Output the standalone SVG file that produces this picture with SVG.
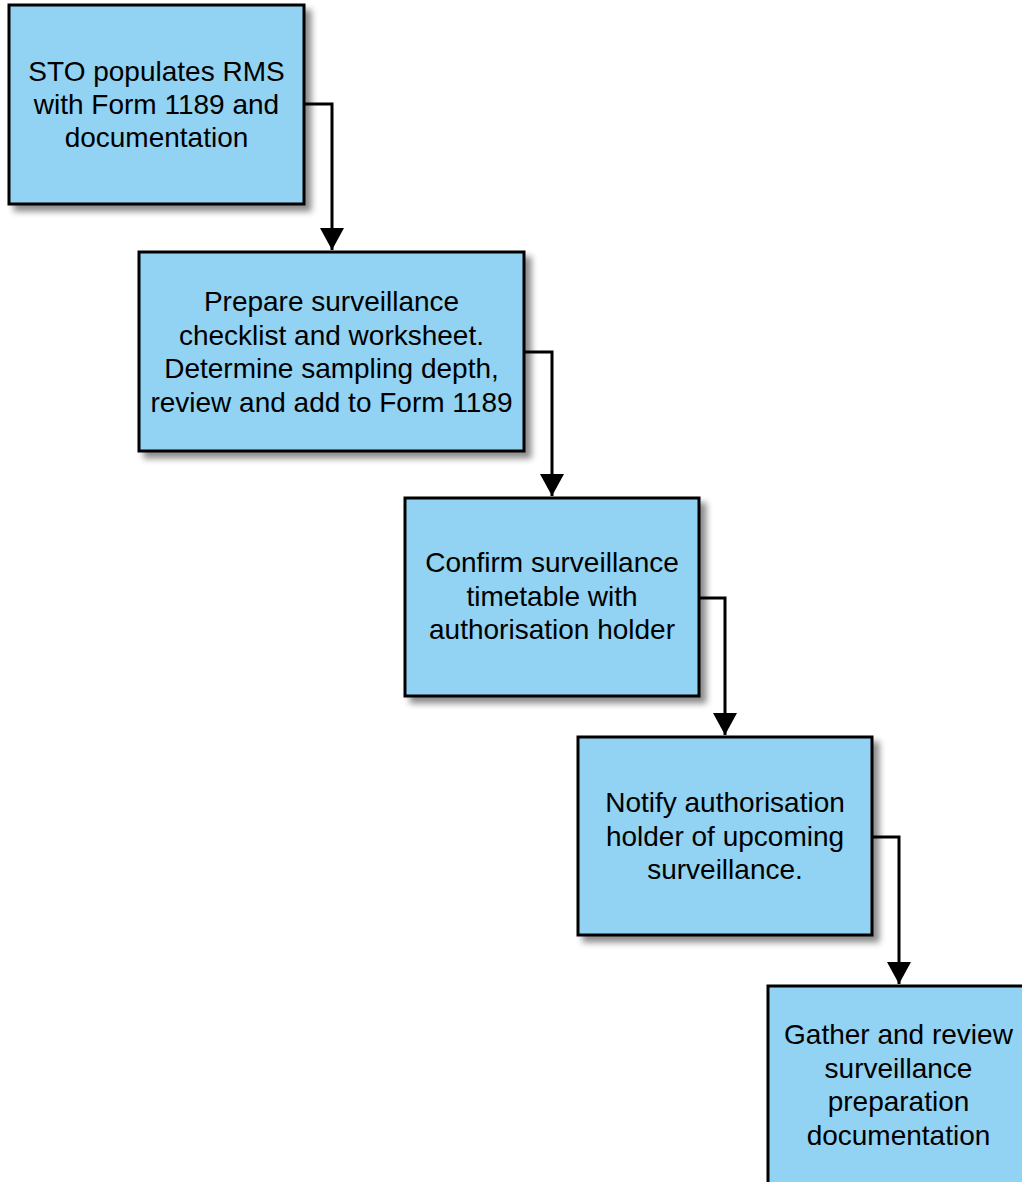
<svg xmlns="http://www.w3.org/2000/svg" width="1022" height="1182" viewBox="0 0 1022 1182">
  <style>
    .box { fill: #92D2F2; stroke: #000000; stroke-width: 3; filter: url(#shadow); }
    .label { font-family: "Liberation Sans", Arial, sans-serif; font-size: 28px; fill: #000000; text-anchor: middle; }
    .link { fill: none; stroke: #000000; stroke-width: 3; marker-end: url(#arrow); }
  </style>
  <defs>
    <filter id="shadow" x="-10%" y="-10%" width="130%" height="130%">
      <feDropShadow dx="6" dy="6" stdDeviation="3" flood-color="#000000" flood-opacity="0.45"/>
    </filter>
    <marker id="arrow" markerUnits="userSpaceOnUse" markerWidth="24" markerHeight="24" viewBox="0 0 24 24" refX="22" refY="12" orient="auto">
      <path d="M0,0 L22,12 L0,24 Z" fill="#000000"/>
    </marker>
  </defs>

  <rect width="1022" height="1182" fill="#FFFFFF"/>

  <!-- connectors -->
  <g id="connectors">
    <path class="link" d="M304,104 H332 V250"/>
    <path class="link" d="M524,352 H552 V496"/>
    <path class="link" d="M699,598 H725 V735"/>
    <path class="link" d="M872,837 H899 V984"/>
  </g>

  <g id="node-sto">
    <rect class="box" x="9" y="5" width="295" height="199"/>
    <text class="label" x="156.5" y="81">STO populates RMS</text>
    <text class="label" x="156.5" y="114">with Form 1189 and</text>
    <text class="label" x="156.5" y="147">documentation</text>
  </g>

  <g id="node-prepare">
    <rect class="box" x="139" y="252" width="385" height="199"/>
    <text class="label" x="331.5" y="311">Prepare surveillance</text>
    <text class="label" x="331.5" y="344.5">checklist and worksheet.</text>
    <text class="label" x="331.5" y="378">Determine sampling depth,</text>
    <text class="label" x="331.5" y="411.5">review and add to Form 1189</text>
  </g>

  <g id="node-confirm">
    <rect class="box" x="405" y="498" width="294" height="198"/>
    <text class="label" x="552" y="572">Confirm surveillance</text>
    <text class="label" x="552" y="606">timetable with</text>
    <text class="label" x="552" y="639">authorisation holder</text>
  </g>

  <g id="node-notify">
    <rect class="box" x="578" y="737" width="294" height="198"/>
    <text class="label" x="725" y="812">Notify authorisation</text>
    <text class="label" x="725" y="846">holder of upcoming</text>
    <text class="label" x="725" y="879">surveillance.</text>
  </g>

  <g id="node-gather">
    <rect class="box" x="768" y="986" width="262" height="200"/>
    <text class="label" x="898.5" y="1044">Gather and review</text>
    <text class="label" x="898.5" y="1078">surveillance</text>
    <text class="label" x="898.5" y="1111">preparation</text>
    <text class="label" x="898.5" y="1145">documentation</text>
  </g>
</svg>
